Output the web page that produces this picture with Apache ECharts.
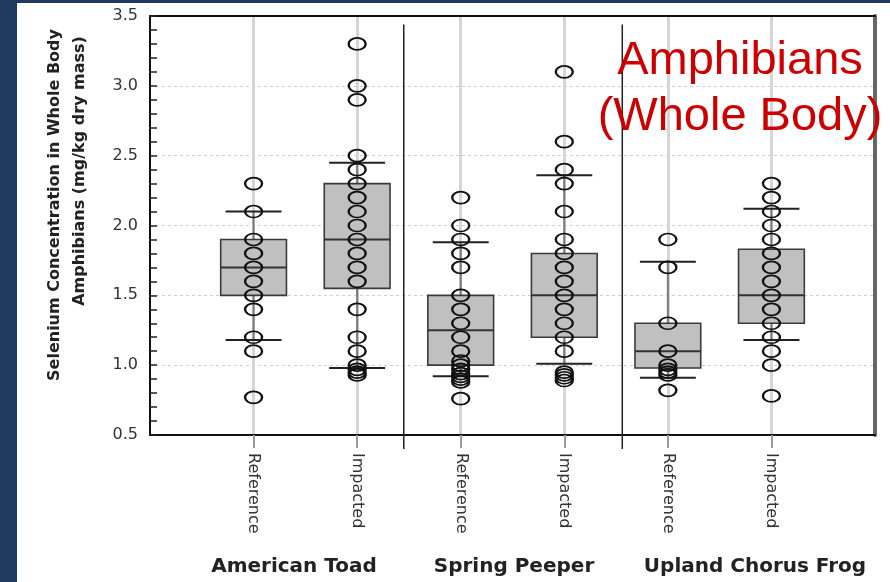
<!DOCTYPE html>
<html><head><meta charset="utf-8">
<script src="https://cdn.jsdelivr.net/npm/echarts@6/dist/echarts.min.js"></script>
<style>
html,body{margin:0;padding:0;width:890px;height:582px;background:#1f3a5e;overflow:hidden;}
#c{position:absolute;left:17px;top:3px;width:873px;height:579px;background:#ffffff;}
</style>
</head><body><div id="c"></div>
<script>
// ---- data ----
const categories = ['Reference', 'Impacted', 'Reference', 'Impacted', 'Reference', 'Impacted'];
const species = ['American Toad', 'Spring Peeper', 'Upland Chorus Frog'];
const yTickValues = [0.5, 1.0, 1.5, 2.0, 2.5, 3.0, 3.5];

// individual samples (mg/kg dry mass)
const toadRefPoints = [2.3, 2.1, 1.9, 1.8, 1.7, 1.6, 1.5, 1.4, 1.2, 1.1, 0.77];
const toadImpPoints = [3.3, 3.0, 2.9, 2.5, 2.4, 2.3, 2.2, 2.1, 2.0, 1.9, 1.8, 1.7, 1.6, 1.4, 1.2, 1.1, 1.0, 0.97, 0.95, 0.93];
const peeperRefPoints = [2.2, 2.0, 1.9, 1.8, 1.7, 1.5, 1.4, 1.3, 1.2, 1.1, 1.03, 1.0, 0.97, 0.94, 0.92, 0.9, 0.88, 0.76];
const peeperImpPoints = [3.1, 2.6, 2.4, 2.3, 2.1, 1.9, 1.8, 1.7, 1.6, 1.5, 1.4, 1.3, 1.2, 1.1, 0.95, 0.93, 0.91, 0.89];
const chorusRefPoints = [1.9, 1.7, 1.3, 1.1, 1.0, 0.97, 0.95, 0.93, 0.82];
const chorusImpPoints = [2.3, 2.2, 2.1, 2.0, 1.9, 1.8, 1.7, 1.6, 1.5, 1.4, 1.3, 1.2, 1.1, 1.0, 0.78];

// box stats: [lower whisker, Q1, median, Q3, upper whisker]
const toadRefBox = [1.18, 1.5, 1.7, 1.9, 2.1];
const toadImpBox = [0.98, 1.55, 1.9, 2.3, 2.45];
const peeperRefBox = [0.92, 1.0, 1.25, 1.5, 1.88];
const peeperImpBox = [1.01, 1.2, 1.5, 1.8, 2.36];
const chorusRefBox = [0.91, 0.98, 1.1, 1.3, 1.74];
const chorusImpBox = [1.18, 1.3, 1.5, 1.83, 2.12];

// species separators (x position in category units)
const separators = [2.45, 4.56];

// ---- build ----
const OX = 17, OY = 3;
const pointGroups = [toadRefPoints, toadImpPoints, peeperRefPoints, peeperImpPoints, chorusRefPoints, chorusImpPoints];
const boxGroups = [toadRefBox, toadImpBox, peeperRefBox, peeperImpBox, chorusRefBox, chorusImpBox];
const scatterData = [];
pointGroups.forEach((arr, i) => arr.forEach(v => scatterData.push([i + 1, v])));
const boxData = boxGroups.map((b, i) => [i + 1].concat(b));
const catPositions = categories.map((c, i) => i + 1);

const chart = echarts.init(document.getElementById('c'), null, {renderer: 'canvas'});
const option = {
  animation: false,
  backgroundColor: '#ffffff',
  grid: {left: 150 - OX, top: 16 - OY, right: 15, bottom: 147},
  xAxis: [{
    type: 'value', min: 0, max: 7, interval: 1,
    axisLine: {show: true, lineStyle: {color: '#111', width: 2}},
    axisTick: {show: true, customValues: catPositions, length: 13, lineStyle: {color: '#9a9a9a', width: 2}},
    axisLabel: {
      customValues: catPositions, rotate: -90, margin: 18,
      formatter: v => (v >= 1 && v <= 6 ? categories[Math.round(v) - 1] : ''),
      fontFamily: 'DejaVu Sans', fontSize: 16, color: '#333'
    },
    splitLine: {show: true, lineStyle: {color: '#d6d6d6', width: 3}}
  }, {
    type: 'value', min: 0, max: 7, position: 'top',
    axisLine: {show: true, onZero: false, lineStyle: {color: '#111', width: 2}},
    axisTick: {show: false}, axisLabel: {show: false}, splitLine: {show: false}
  }],
  yAxis: [{
    type: 'value', min: 0.5, max: 3.5, interval: 0.5,
    axisLine: {show: true, lineStyle: {color: '#111', width: 2}},
    axisTick: {show: true, inside: true, length: 7, lineStyle: {color: '#222', width: 1.5}},
    minorTick: {show: true, splitNumber: 5, length: 7, lineStyle: {color: '#222', width: 1.5}},
    axisLabel: {
      margin: 12, fontFamily: 'DejaVu Sans', fontSize: 16, color: '#333',
      customValues: yTickValues,
      formatter: v => v.toFixed(1)
    },
    splitLine: {show: true, lineStyle: {color: '#cfcfcf', width: 1, type: [3, 3]}}
  }, {
    type: 'value', min: 0.5, max: 3.5, position: 'right',
    axisLine: {show: true, onZero: false, lineStyle: {color: '#666', width: 4}},
    axisTick: {show: false}, axisLabel: {show: false}, splitLine: {show: false}
  }],
  series: [{
    type: 'custom', z: 2, silent: true,
    xAxisIndex: 0, yAxisIndex: 0,
    encode: {x: 0, y: [1, 2, 3, 4, 5]},
    data: boxData,
    renderItem: function (params, api) {
      const x = api.value(0);
      const unit = api.size([1, 0])[0];
      const bw = unit * 0.635, cw = unit * 0.54;
      const pLo = api.coord([x, api.value(1)]);
      const pQ1 = api.coord([x, api.value(2)]);
      const pMed = api.coord([x, api.value(3)]);
      const pQ3 = api.coord([x, api.value(4)]);
      const pHi = api.coord([x, api.value(5)]);
      const cx = pMed[0];
      return {type: 'group', children: [
        {type: 'line', shape: {x1: cx, y1: pLo[1], x2: cx, y2: pQ1[1]}, style: {stroke: '#7a7a7a', lineWidth: 2}},
        {type: 'line', shape: {x1: cx, y1: pQ3[1], x2: cx, y2: pHi[1]}, style: {stroke: '#7a7a7a', lineWidth: 2}},
        {type: 'rect', shape: {x: cx - bw / 2, y: pQ3[1], width: bw, height: pQ1[1] - pQ3[1]},
          style: {fill: '#c0c0c0', stroke: '#3a3a3a', lineWidth: 1.6}},
        {type: 'line', shape: {x1: cx - bw / 2, y1: pMed[1], x2: cx + bw / 2, y2: pMed[1]}, style: {stroke: '#333', lineWidth: 2}},
        {type: 'line', shape: {x1: cx - cw / 2, y1: pLo[1], x2: cx + cw / 2, y2: pLo[1]}, style: {stroke: '#222', lineWidth: 2}},
        {type: 'line', shape: {x1: cx - cw / 2, y1: pHi[1], x2: cx + cw / 2, y2: pHi[1]}, style: {stroke: '#222', lineWidth: 2}}
      ]};
    }
  }, {
    type: 'scatter', z: 3, silent: true,
    xAxisIndex: 0, yAxisIndex: 0,
    data: scatterData,
    symbol: 'path://M0 50 A50 50 0 1 1 100 50 A50 50 0 1 1 0 50 Z',
    symbolSize: [17, 12],
    itemStyle: {color: 'rgba(255,255,255,0)', borderColor: '#111', borderWidth: 2, opacity: 1}
  }, {
    type: 'custom', z: 4, silent: true,
    xAxisIndex: 0, yAxisIndex: 0,
    encode: {x: 0},
    data: separators.map(s => [s]),
    renderItem: function (params, api) {
      const x = api.value(0);
      const top = api.coord([x, 3.44]);
      const bot = api.coord([x, 0.5]);
      return {type: 'line', shape: {x1: top[0], y1: top[1], x2: bot[0], y2: bot[1] + 14},
        style: {stroke: '#222', lineWidth: 1.5}};
    }
  }],
  graphic: [
    {type: 'text', x: 55 - OX, y: 205 - OY, rotation: Math.PI / 2,
      style: {text: 'Selenium Concentration in Whole Body', font: 'bold 16px "DejaVu Sans"', fill: '#222', align: 'center', verticalAlign: 'middle'}},
    {type: 'text', x: 80 - OX, y: 171 - OY, rotation: Math.PI / 2,
      style: {text: 'Amphibians (mg/kg dry mass)', font: 'bold 16px "DejaVu Sans"', fill: '#222', align: 'center', verticalAlign: 'middle'}},
    {type: 'text', x: 294 - OX, y: 567 - OY,
      style: {text: species[0], font: 'bold 20px "DejaVu Sans"', fill: '#222', align: 'center', verticalAlign: 'middle'}},
    {type: 'text', x: 514 - OX, y: 567 - OY,
      style: {text: species[1], font: 'bold 20px "DejaVu Sans"', fill: '#222', align: 'center', verticalAlign: 'middle'}},
    {type: 'text', x: 755 - OX, y: 567 - OY,
      style: {text: species[2], font: 'bold 20px "DejaVu Sans"', fill: '#222', align: 'center', verticalAlign: 'middle'}},
    {type: 'text', x: 740 - OX, y: 61 - OY, z: 10,
      style: {text: 'Amphibians', font: '47px "Liberation Sans"', fill: '#cc0000', align: 'center', verticalAlign: 'middle'}},
    {type: 'text', x: 740 - OX, y: 117 - OY, z: 10,
      style: {text: '(Whole Body)', font: '47px "Liberation Sans"', fill: '#cc0000', align: 'center', verticalAlign: 'middle'}}
  ]
};
chart.setOption(option);
</script></body></html>
